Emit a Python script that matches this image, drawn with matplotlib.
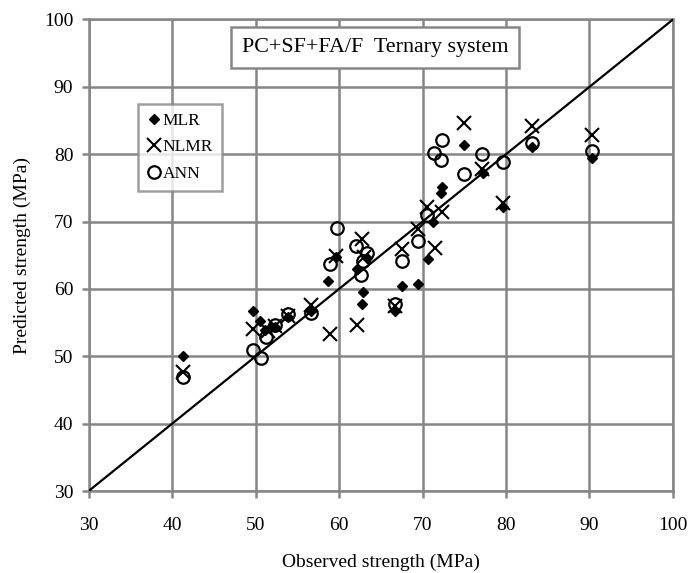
import numpy as np
import matplotlib
matplotlib.use('Agg')
import matplotlib.pyplot as plt

plt.rcParams['font.family'] = ['Liberation Serif', 'DejaVu Serif']

# observed vs predicted strength (MPa)
mlr_obs = [41.3, 49.7, 50.5, 51.1, 51.7, 52.3, 53.9, 56.6, 58.7, 59.6, 62.1, 63.3,
           62.9, 62.7, 66.7, 67.5, 69.5, 70.6, 71.3, 72.3, 72.2, 75.0, 77.2, 79.7,
           83.1, 90.3]
mlr_pred = [50.0, 56.7, 55.2, 53.9, 54.2, 54.3, 55.9, 56.8, 61.2, 64.8, 63.0, 64.6,
            59.5, 57.7, 56.7, 60.4, 60.7, 64.5, 70.0, 75.2, 74.2, 81.4, 77.2, 72.2,
            81.1, 79.4]

nlmr_obs = [41.3, 49.7, 51.5, 52.3, 53.9, 56.6, 58.9, 59.6, 62.1, 62.8, 63.0, 66.7,
            67.6, 69.4, 70.5, 71.5, 72.3, 75.0, 77.1, 79.7, 83.1, 90.3]
nlmr_pred = [47.6, 54.0, 53.8, 54.5, 56.0, 57.6, 53.3, 64.9, 54.7, 67.4, 64.8, 57.4,
             65.9, 68.9, 72.2, 66.1, 71.4, 84.7, 77.8, 72.7, 84.2, 82.8]

ann_obs = [41.3, 49.7, 50.6, 51.3, 52.3, 53.9, 56.6, 58.9, 59.7, 62.0, 63.3, 62.9,
           62.6, 66.7, 67.5, 69.5, 70.5, 71.4, 72.2, 72.3, 75.0, 77.1, 79.7, 83.1, 90.3]
ann_pred = [46.9, 51.0, 49.8, 52.8, 54.6, 56.3, 56.4, 63.7, 69.1, 66.4, 65.4, 64.2,
            62.0, 57.8, 64.1, 67.1, 71.0, 80.2, 79.2, 82.1, 77.1, 80.0, 78.8, 81.6, 80.5]

line_range = [30, 100]
ticks = [30, 40, 50, 60, 70, 80, 90, 100]

fig = plt.figure(figsize=(6.92, 5.73), dpi=100)
ax = fig.add_axes([0.128, 0.143, 0.8445, 0.823])

grid_col = '#868686'
ax.plot(line_range, line_range, color='black', lw=1.6, zorder=3)
ax.plot(mlr_obs, mlr_pred, ls='none', marker='D', ms=5, color='black',
        label='MLR', zorder=4)
ax.plot(nlmr_obs, nlmr_pred, ls='none', marker='x', ms=9.5, mew=1.5,
        color='black', label='NLMR', zorder=4)
ax.plot(ann_obs, ann_pred, ls='none', marker='o', ms=9, mew=1.6,
        mfc='none', mec='black', label='ANN', zorder=4)

ax.set_xlim(30, 100)
ax.set_ylim(30, 100)
ax.set_xticks(ticks)
ax.set_yticks(ticks)
ax.grid(True, color=grid_col, lw=1.8)
ax.set_axisbelow(True)
for s in ax.spines.values():
    s.set_color(grid_col)
    s.set_linewidth(1.8)
ax.tick_params(direction='out', length=5, width=1.8, color=grid_col,
               labelsize=14, pad=14)
ax.tick_params(axis='y', pad=6)

ax.set_xlabel('Observed strength (MPa)', fontsize=14, labelpad=14)
ax.set_ylabel('Predicted strength (MPa)', fontsize=14, labelpad=9)

ax.text(0.49, 0.94, 'PC+SF+FA/F  Ternary system', transform=ax.transAxes,
        fontsize=15.8, ha='center', va='center', zorder=5,
        bbox=dict(boxstyle='square,pad=0.5', fc='white', ec=grid_col, lw=1.8))

leg = ax.legend(loc='upper left', bbox_to_anchor=(0.085, 0.821), fontsize=12.5,
                frameon=True, fancybox=False, handlelength=0.8,
                handletextpad=0.1, borderpad=0.5, labelspacing=0.6,
                borderaxespad=0)
leg.get_frame().set_edgecolor(grid_col)
leg.get_frame().set_linewidth(1.8)
leg.set_zorder(6)

fig.savefig('out.png', dpi=100)
